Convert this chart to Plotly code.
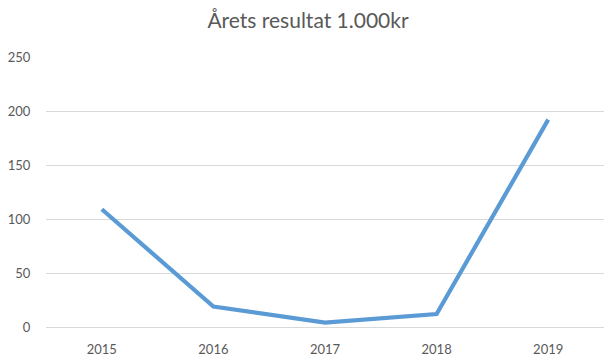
import plotly.graph_objects as go

years = ["2015", "2016", "2017", "2018", "2019"]
values = [109, 19, 4, 12, 192]
y_ticks = [0, 50, 100, 150, 200, 250]

fig = go.Figure()
fig.add_trace(go.Scatter(
    x=years, y=values, mode="lines",
    line=dict(color="#5B9BD5", width=4.2),
    hoverinfo="x+y",
))

fig.update_layout(
    width=616, height=364,
    margin=dict(l=46, r=12, t=57, b=37, autoexpand=False),
    paper_bgcolor="white", plot_bgcolor="white",
    showlegend=False,
    font=dict(family="Lato, Open Sans, sans-serif", color="#595959", size=13),
    title=dict(text="Årets resultat 1.000kr", x=0.5, xanchor="center",
               y=1 - 21 / 364, yanchor="middle",
               font=dict(size=21, color="#595959", family="Lato, Open Sans, sans-serif")),
    xaxis=dict(type="category", range=[-0.5, 4.5], showgrid=False, showline=False,
               zeroline=False, automargin=False,
               ticks="outside", ticklen=10, tickcolor="rgba(0,0,0,0)",
               tickfont=dict(size=13, color="#595959")),
    yaxis=dict(range=[0, 250], tickvals=y_ticks, showgrid=True, gridcolor="#D9D9D9",
               gridwidth=1, zeroline=True, zerolinecolor="#D9D9D9", zerolinewidth=1,
               showline=False, automargin=False, ticks="outside", ticklen=12,
               tickcolor="rgba(0,0,0,0)",
               tickfont=dict(size=13, color="#595959")),
)

fig.write_html("out.html")
